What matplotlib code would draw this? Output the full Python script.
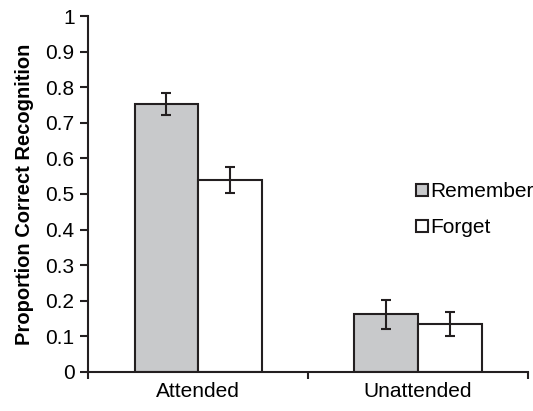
import numpy as np
import matplotlib.pyplot as plt

plt.rcParams['font.family'] = ['Liberation Sans', 'DejaVu Sans']

categories = ['Attended', 'Unattended']
remember = [0.753, 0.162]
forget = [0.540, 0.135]
remember_err = [0.031, 0.041]
forget_err = [0.037, 0.034]

edge = '#231f20'
fs = 15
fig = plt.figure(figsize=(5.33, 4.11), dpi=100)
ax = fig.add_axes([0.166, 0.095, 0.824, 0.866])

x = np.arange(len(categories))
w = 0.29
err_kw = dict(ecolor=edge, elinewidth=1.5, capsize=3.6, capthick=1.5)
ax.bar(x - w/2, remember, w, yerr=remember_err, color='#c8c9cb', edgecolor=edge,
       linewidth=1.5, label='Remember', error_kw=err_kw, zorder=2)
ax.bar(x + w/2, forget, w, yerr=forget_err, color='white', edgecolor=edge,
       linewidth=1.5, label='Forget', error_kw=err_kw, zorder=2)

ax.set_xlim(-0.5, 1.5)
ax.set_ylim(0, 1)
ax.set_yticks(np.arange(0, 1.01, 0.1))
ax.set_yticklabels(['0'] + ['%.1f' % v for v in np.arange(0.1, 1.0, 0.1)] + ['1'])
ax.set_xticks([-0.5, 0.5, 1.5], minor=False)
ax.set_xticklabels(['', '', ''])
ax.set_xticks(x, minor=True)
ax.set_xticklabels(categories, minor=True)
ax.tick_params(axis='x', which='minor', length=0, pad=7, labelsize=fs)
ax.tick_params(axis='x', which='major', length=5, width=1.5, color=edge)
ax.tick_params(axis='y', length=6, width=1.5, color=edge, labelsize=fs, pad=4)

for s in ['top', 'right']:
    ax.spines[s].set_visible(False)
for s in ['left', 'bottom']:
    ax.spines[s].set_linewidth(1.5)
    ax.spines[s].set_color(edge)

ax.set_ylabel('Proportion Correct Recognition', fontsize=fs - 0.5, fontweight='bold', labelpad=8)

ax.legend(loc='upper left', bbox_to_anchor=(0.746, 0.533), frameon=False, fontsize=fs,
          borderpad=0, borderaxespad=0,
          handlelength=0.55, handleheight=0.55, handletextpad=0.15, labelspacing=0.82)

plt.savefig('out.png', dpi=100)
